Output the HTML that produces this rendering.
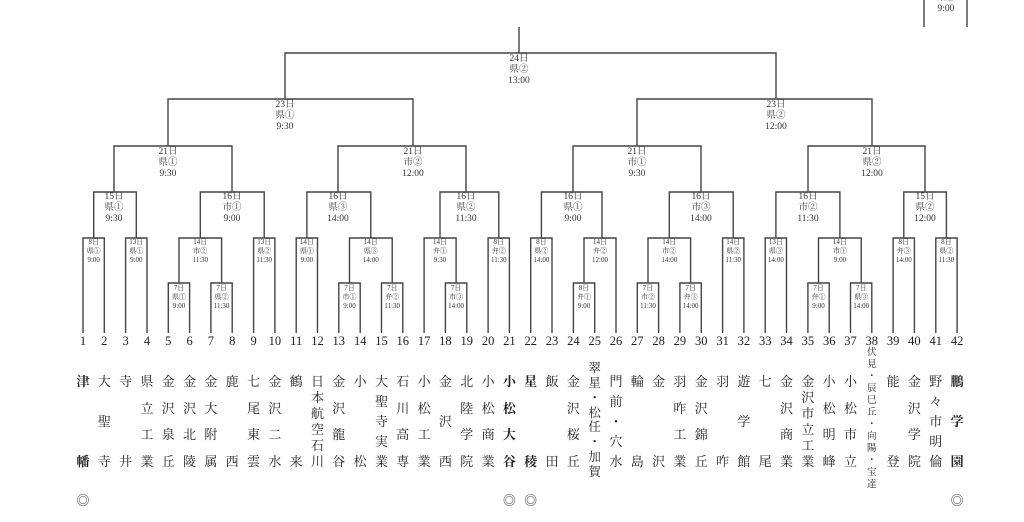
<!DOCTYPE html>
<html><head><meta charset="utf-8"><style>
body{margin:0;background:#fff;width:1024px;height:522px;overflow:hidden;position:relative;font-family:"Liberation Serif","Noto Serif CJK JP",serif;}
svg{position:absolute;left:0;top:0}
.l{fill:none;stroke:#444;stroke-width:1.4}
.t{font-family:"Liberation Serif","Noto Serif CJK JP",serif;fill:#333;text-anchor:middle;dominant-baseline:central}
.b{font-size:9.5px}.s{font-size:7px}
.n{font-size:12.5px;fill:#222}
.c{position:absolute;top:375px;height:93px;width:16px;display:flex;flex-direction:column;justify-content:space-between;align-items:center;font-size:13px;line-height:13px;color:#222}
.c.k{font-weight:bold}
.m{position:absolute;top:490px;font-size:13px;width:16px;text-align:center;color:#444}
</style></head><body>
<svg width="1024" height="522" viewBox="0 0 1024 522">
<g class="l">
<path d="M924 0V27M967 0V27"/>
<path d="M519 27V53M285 99V53H776V99"/>
<path d="M168 146V99H413V146M637 146V99H872V146"/>
<path d="M114 192V146H232V192M338 192V146H466V192M573 192V146H701V192M808 192V146H925V192"/>
<path d="M93.7 238V192H136.3V238M200.3 238V192H264.2V238M306.9 238V192H370.8V238M440 238V192H498.8V238M541.4 238V192H602V238M669.3 238V192H733.2V238M775.9 238V192H839.9V238M903.8 238V192H946.4V238"/>
<path d="M83 333V238H104.3V333M125.6 333V238H147V333M179 283V238H221.6V283M253.6 333V238H274.9V333M296.2 333V238H317.5V333M349.5 283V238H392.2V283M424.1 333V238H456.1V283M488.1 333V238H509.4V333M530.7 333V238H552V333M584 283V238H616V333M648 283V238H690.6V283M722.6 333V238H743.9V333M765.2 333V238H786.5V333M818.5 283V238H861.2V283M893.1 333V238H914.4V333M935.8 333V238H957.1V333"/>
<path d="M168.3 333V283H189.6V333M210.9 333V283H232.2V333M338.8 333V283H360.2V333M381.5 333V283H402.8V333M445.4 333V283H466.8V333M573.4 333V283H594.7V333M637.3 333V283H658.6V333M679.9 333V283H701.3V333M807.9 333V283H829.2V333M850.5 333V283H871.8V333"/>
</g>
<g class="t b">
<text x="946" y="-2">県②</text><text x="946" y="9">9:00</text>
<text x="519" y="59">24日</text><text x="519" y="70">県②</text><text x="519" y="81">13:00</text>
<text x="285" y="105">23日</text><text x="285" y="116">県①</text><text x="285" y="127">9:30</text>
<text x="776" y="105">23日</text><text x="776" y="116">県②</text><text x="776" y="127">12:00</text>
<text x="168" y="152">21日</text><text x="168" y="163">県①</text><text x="168" y="174">9:30</text>
<text x="413" y="152">21日</text><text x="413" y="163">市②</text><text x="413" y="174">12:00</text>
<text x="637" y="152">21日</text><text x="637" y="163">市①</text><text x="637" y="174">9:30</text>
<text x="872" y="152">21日</text><text x="872" y="163">県②</text><text x="872" y="174">12:00</text>
<text x="114" y="197">15日</text><text x="114" y="208">県①</text><text x="114" y="219">9:30</text>
<text x="232" y="197">16日</text><text x="232" y="208">市①</text><text x="232" y="219">9:00</text>
<text x="338" y="197">16日</text><text x="338" y="208">県③</text><text x="338" y="219">14:00</text>
<text x="466" y="197">16日</text><text x="466" y="208">県②</text><text x="466" y="219">11:30</text>
<text x="573" y="197">16日</text><text x="573" y="208">県①</text><text x="573" y="219">9:00</text>
<text x="701" y="197">16日</text><text x="701" y="208">市③</text><text x="701" y="219">14:00</text>
<text x="808" y="197">16日</text><text x="808" y="208">市②</text><text x="808" y="219">11:30</text>
<text x="925" y="197">15日</text><text x="925" y="208">県②</text><text x="925" y="219">12:00</text>
</g>
<g class="t s">
<text x="93.7" y="242">8日</text><text x="93.7" y="251">県①</text><text x="93.7" y="260">9:00</text>
<text x="136.3" y="242">13日</text><text x="136.3" y="251">県①</text><text x="136.3" y="260">9:00</text>
<text x="200.3" y="242">14日</text><text x="200.3" y="251">市②</text><text x="200.3" y="260">11:30</text>
<text x="264.2" y="242">13日</text><text x="264.2" y="251">県②</text><text x="264.2" y="260">11:30</text>
<text x="306.9" y="242">14日</text><text x="306.9" y="251">県①</text><text x="306.9" y="260">9:00</text>
<text x="370.8" y="242">14日</text><text x="370.8" y="251">県③</text><text x="370.8" y="260">14:00</text>
<text x="440" y="242">14日</text><text x="440" y="251">弁①</text><text x="440" y="260">9:30</text>
<text x="498.8" y="242">8日</text><text x="498.8" y="251">弁②</text><text x="498.8" y="260">11:30</text>
<text x="541.4" y="242">8日</text><text x="541.4" y="251">県②</text><text x="541.4" y="260">14:00</text>
<text x="600" y="242">14日</text><text x="600" y="251">弁②</text><text x="600" y="260">12:00</text>
<text x="669.3" y="242">14日</text><text x="669.3" y="251">市②</text><text x="669.3" y="260">14:00</text>
<text x="733.2" y="242">14日</text><text x="733.2" y="251">県②</text><text x="733.2" y="260">11:30</text>
<text x="775.9" y="242">13日</text><text x="775.9" y="251">県③</text><text x="775.9" y="260">14:00</text>
<text x="839.9" y="242">14日</text><text x="839.9" y="251">市①</text><text x="839.9" y="260">9:00</text>
<text x="903.8" y="242">8日</text><text x="903.8" y="251">弁③</text><text x="903.8" y="260">14:00</text>
<text x="946.4" y="242">8日</text><text x="946.4" y="251">県②</text><text x="946.4" y="260">11:30</text>
<text x="179" y="288">7日</text><text x="179" y="297">県①</text><text x="179" y="306">9:00</text>
<text x="221.6" y="288">7日</text><text x="221.6" y="297">県②</text><text x="221.6" y="306">11:30</text>
<text x="349.5" y="288">7日</text><text x="349.5" y="297">市①</text><text x="349.5" y="306">9:00</text>
<text x="392.2" y="288">7日</text><text x="392.2" y="297">弁②</text><text x="392.2" y="306">11:30</text>
<text x="456.1" y="288">7日</text><text x="456.1" y="297">市③</text><text x="456.1" y="306">14:00</text>
<text x="584" y="288">8日</text><text x="584" y="297">弁①</text><text x="584" y="306">9:00</text>
<text x="648" y="288">7日</text><text x="648" y="297">市②</text><text x="648" y="306">11:30</text>
<text x="690.6" y="288">7日</text><text x="690.6" y="297">弁③</text><text x="690.6" y="306">14:00</text>
<text x="818.5" y="288">7日</text><text x="818.5" y="297">弁①</text><text x="818.5" y="306">9:00</text>
<text x="861.2" y="288">7日</text><text x="861.2" y="297">県③</text><text x="861.2" y="306">14:00</text>
</g>
<g class="t n">
<text x="83" y="341">1</text><text x="104.3" y="341">2</text><text x="125.6" y="341">3</text><text x="147" y="341">4</text><text x="168.3" y="341">5</text><text x="189.6" y="341">6</text><text x="210.9" y="341">7</text><text x="232.2" y="341">8</text><text x="253.6" y="341">9</text><text x="274.9" y="341">10</text><text x="296.2" y="341">11</text><text x="317.5" y="341">12</text><text x="338.8" y="341">13</text><text x="360.2" y="341">14</text><text x="381.5" y="341">15</text><text x="402.8" y="341">16</text><text x="424.1" y="341">17</text><text x="445.4" y="341">18</text><text x="466.8" y="341">19</text><text x="488.1" y="341">20</text><text x="509.4" y="341">21</text><text x="530.7" y="341">22</text><text x="552" y="341">23</text><text x="573.4" y="341">24</text><text x="594.7" y="341">25</text><text x="616" y="341">26</text><text x="637.3" y="341">27</text><text x="658.6" y="341">28</text><text x="679.9" y="341">29</text><text x="701.3" y="341">30</text><text x="722.6" y="341">31</text><text x="743.9" y="341">32</text><text x="765.2" y="341">33</text><text x="786.5" y="341">34</text><text x="807.9" y="341">35</text><text x="829.2" y="341">36</text><text x="850.5" y="341">37</text><text x="871.8" y="341">38</text><text x="893.1" y="341">39</text><text x="914.4" y="341">40</text><text x="935.8" y="341">41</text><text x="957.1" y="341">42</text>
</g>
</svg>
<div class="c k" style="left:75px"><span>津</span><span>幡</span></div>
<div class="c" style="left:96.3px"><span>大</span><span>聖</span><span>寺</span></div>
<div class="c" style="left:117.6px"><span>寺</span><span>井</span></div>
<div class="c" style="left:139px"><span>県</span><span>立</span><span>工</span><span>業</span></div>
<div class="c" style="left:160.3px"><span>金</span><span>沢</span><span>泉</span><span>丘</span></div>
<div class="c" style="left:181.6px"><span>金</span><span>沢</span><span>北</span><span>陵</span></div>
<div class="c" style="left:202.9px"><span>金</span><span>大</span><span>附</span><span>属</span></div>
<div class="c" style="left:224.2px"><span>鹿</span><span>西</span></div>
<div class="c" style="left:245.6px"><span>七</span><span>尾</span><span>東</span><span>雲</span></div>
<div class="c" style="left:266.9px"><span>金</span><span>沢</span><span>二</span><span>水</span></div>
<div class="c" style="left:288.2px"><span>鶴</span><span>来</span></div>
<div class="c" style="left:309.5px"><span>日</span><span>本</span><span>航</span><span>空</span><span>石</span><span>川</span></div>
<div class="c" style="left:330.8px"><span>金</span><span>沢</span><span>龍</span><span>谷</span></div>
<div class="c" style="left:352.2px"><span>小</span><span>松</span></div>
<div class="c" style="left:373.5px"><span>大</span><span>聖</span><span>寺</span><span>実</span><span>業</span></div>
<div class="c" style="left:394.8px"><span>石</span><span>川</span><span>高</span><span>専</span></div>
<div class="c" style="left:416.1px"><span>小</span><span>松</span><span>工</span><span>業</span></div>
<div class="c" style="left:437.4px"><span>金</span><span>沢</span><span>西</span></div>
<div class="c" style="left:458.8px"><span>北</span><span>陸</span><span>学</span><span>院</span></div>
<div class="c" style="left:480.1px"><span>小</span><span>松</span><span>商</span><span>業</span></div>
<div class="c k" style="left:501.4px"><span>小</span><span>松</span><span>大</span><span>谷</span></div>
<div class="c k" style="left:522.7px"><span>星</span><span>稜</span></div>
<div class="c" style="left:544px"><span>飯</span><span>田</span></div>
<div class="c" style="left:565.4px"><span>金</span><span>沢</span><span>桜</span><span>丘</span></div>
<div class="c" style="left:586.7px;top:362px;height:117px;font-size:12.5px"><span>翠</span><span>星</span><span>・</span><span>松</span><span>任</span><span>・</span><span>加</span><span>賀</span></div>
<div class="c" style="left:608px"><span>門</span><span>前</span><span>・</span><span>穴</span><span>水</span></div>
<div class="c" style="left:629.3px"><span>輪</span><span>島</span></div>
<div class="c" style="left:650.6px"><span>金</span><span>沢</span></div>
<div class="c" style="left:671.9px"><span>羽</span><span>咋</span><span>工</span><span>業</span></div>
<div class="c" style="left:693.3px"><span>金</span><span>沢</span><span>錦</span><span>丘</span></div>
<div class="c" style="left:714.6px"><span>羽</span><span>咋</span></div>
<div class="c" style="left:735.9px"><span>遊</span><span>学</span><span>館</span></div>
<div class="c" style="left:757.2px"><span>七</span><span>尾</span></div>
<div class="c" style="left:778.5px"><span>金</span><span>沢</span><span>商</span><span>業</span></div>
<div class="c" style="left:799.9px"><span>金</span><span>沢</span><span>市</span><span>立</span><span>工</span><span>業</span></div>
<div class="c" style="left:821.2px"><span>小</span><span>松</span><span>明</span><span>峰</span></div>
<div class="c" style="left:842.5px"><span>小</span><span>松</span><span>市</span><span>立</span></div>
<div class="c" style="left:863.8px;top:348px;height:142px;font-size:9.5px;line-height:10px"><span>伏</span><span>見</span><span>・</span><span>辰</span><span>巳</span><span>丘</span><span>・</span><span>向</span><span>陽</span><span>・</span><span>宝</span><span>達</span></div>
<div class="c" style="left:885.1px"><span>能</span><span>登</span></div>
<div class="c" style="left:906.4px"><span>金</span><span>沢</span><span>学</span><span>院</span></div>
<div class="c" style="left:927.8px"><span>野</span><span>々</span><span>市</span><span>明</span><span>倫</span></div>
<div class="c k" style="left:949.1px"><span>鵬</span><span>学</span><span>園</span></div>
<div class="m" style="left:75px">◎</div>
<div class="m" style="left:501.4px">◎</div>
<div class="m" style="left:522.7px">◎</div>
<div class="m" style="left:949.1px">◎</div>
</body></html>
